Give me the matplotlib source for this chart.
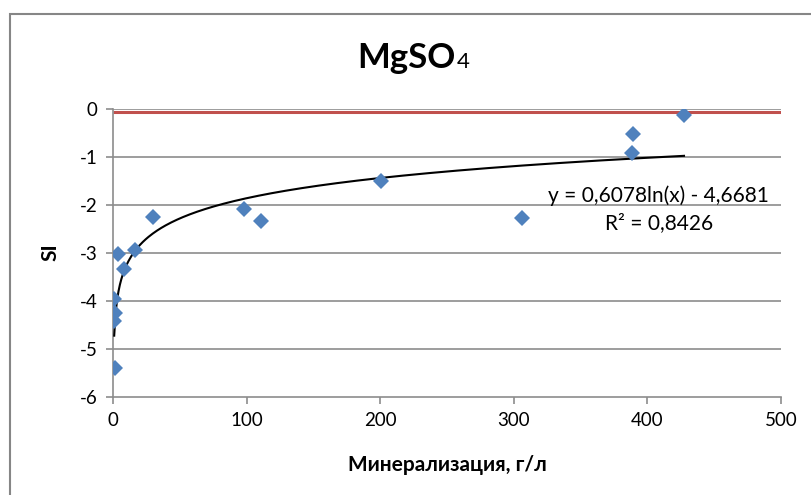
import numpy as np
import matplotlib
matplotlib.use('Agg')
import matplotlib.pyplot as plt
from matplotlib.patches import Rectangle

plt.rcParams['font.family'] = ['Lato', 'Open Sans', 'DejaVu Sans']
plt.rcParams['axes.unicode_minus'] = False

# минерализация (г/л) и индекс насыщения SI
mineral = [427.4, 389, 388.5, 306, 200.6, 110.8, 98, 30, 16.5, 4, 8, 1, 1.5, 0.9, 1.5]
si = [-0.14, -0.53, -0.93, -2.28, -1.51, -2.34, -2.09, -2.26, -2.95, -3.03, -3.34,
      -3.97, -4.26, -4.43, -5.40]

# линия равновесия
eq_x = [0, 500]
eq_y = [-0.07, -0.07]

# логарифмический тренд
a, b = 0.6078, -4.6681
r2 = 0.8426

x_ticks = [0, 100, 200, 300, 400, 500]
y_ticks = [0, -1, -2, -3, -4, -5, -6]

fig = plt.figure(figsize=(8.11, 4.95), dpi=100)
W, H = 811, 495
ax = fig.add_axes([113 / W, 1 - 396.5 / H, (781 - 113) / W, (396.5 - 108.5) / H])

grid_c = '#8c8c8c'
for yv in y_ticks[:-1]:
    ax.axhline(yv, color=grid_c, lw=1.2, zorder=1)

ax.plot(eq_x, eq_y, color='#c0504d', lw=2.2, zorder=2, solid_capstyle='butt')

xt = np.linspace(min(mineral), max(mineral), 400)
ax.plot(xt, a * np.log(xt) + b, color='black', lw=1.5, zorder=3)

ax.plot(mineral, si, linestyle='none', marker='D', markersize=8.5,
        color='#4f81bd', markeredgewidth=0, zorder=4)

ax.set_xlim(0, 500)
ax.set_ylim(-6, 0)
ax.set_xticks(x_ticks)
ax.set_yticks(y_ticks)
ax.tick_params(axis='both', direction='out', length=5, width=1.2, color=grid_c,
               labelsize=13.5, pad=6)
for side in ['top', 'right']:
    ax.spines[side].set_visible(False)
for side in ['left', 'bottom']:
    ax.spines[side].set_color(grid_c)
    ax.spines[side].set_linewidth(1.2)

ax.set_xlabel('Минерализация, г/л', fontsize=15, fontweight='bold', labelpad=19)
ax.set_ylabel('SI', fontsize=15, fontweight='bold', labelpad=14)

ax.text(0.817, 0.698, 'y = 0,6078ln(x) - 4,6681', transform=ax.transAxes,
        ha='center', va='center', fontsize=15)
ax.text(0.817, 0.603, 'R² = 0,8426', transform=ax.transAxes,
        ha='center', va='center', fontsize=15)

# заголовок: формула с мелкой цифрой
fig.text(456 / W, 1 - 68 / H, 'MgSO', ha='right', va='baseline',
         fontsize=25, fontweight='bold')
fig.text(457 / W, 1 - 68 / H, '4', ha='left', va='baseline', fontsize=16)

# рамка области диаграммы
fig.patches.append(Rectangle((10 / W, -0.1), 1.0, 1 - 14 / H + 0.1,
                             transform=fig.transFigure, fill=False,
                             edgecolor='#868686', lw=1.5))

fig.savefig('out.png', dpi=100)
